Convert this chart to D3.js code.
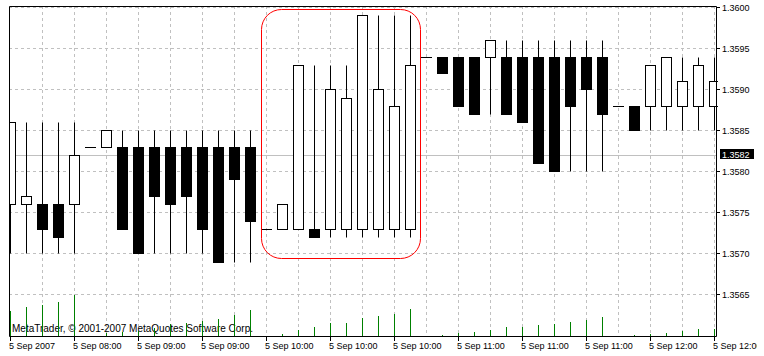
<!DOCTYPE html>
<html>
<head>
<meta charset="utf-8">
<script src="https://cdn.jsdelivr.net/npm/d3@7"></script>
<style>
  html, body { margin: 0; padding: 0; background: #ffffff; }
  svg { display: block; }
  text { font-family: "Liberation Sans", Arial, sans-serif; }
</style>
</head>
<body>
<svg id="chart_svg" width="764" height="356"></svg>
<script>
// bar data, one entry per 5 minute candle
const opens = [1.3576, 1.3576, 1.3576, 1.3576, 1.3576, 1.3583, 1.3583, 1.3583, 1.3583, 1.3583,
  1.3583, 1.3583, 1.3583, 1.3583, 1.3583, 1.3583, 1.3573, 1.3573, 1.3573, 1.3573,
  1.3573, 1.3573, 1.3573, 1.3573, 1.3573, 1.3573, 1.3594, 1.3594, 1.3594, 1.3594,
  1.3594, 1.3594, 1.3594, 1.3594, 1.3594, 1.3594, 1.3594, 1.3594, 1.3588, 1.3588,
  1.3588, 1.3588, 1.3588, 1.3588, 1.3588];
const highs = [1.3586, 1.3586, 1.3586, 1.3586, 1.3586, 1.3583, 1.3585, 1.3585, 1.3585, 1.3585,
  1.3585, 1.3585, 1.3585, 1.3585, 1.3585, 1.3585, 1.3573, 1.3576, 1.3593, 1.3593,
  1.3593, 1.3593, 1.3599, 1.3599, 1.3599, 1.3599, 1.3594, 1.3594, 1.3594, 1.3594,
  1.3596, 1.3596, 1.3596, 1.3596, 1.3596, 1.3596, 1.3596, 1.3596, 1.3588, 1.3588,
  1.3593, 1.3594, 1.3594, 1.3594, 1.3594];
const lows = [1.3570, 1.3570, 1.3570, 1.3570, 1.3570, 1.3583, 1.3583, 1.3573, 1.3570, 1.3570,
  1.3570, 1.3570, 1.3570, 1.3569, 1.3569, 1.3569, 1.3573, 1.3573, 1.3573, 1.3572,
  1.3572, 1.3572, 1.3572, 1.3572, 1.3572, 1.3572, 1.3594, 1.3592, 1.3588, 1.3587,
  1.3587, 1.3587, 1.3586, 1.3581, 1.3580, 1.3580, 1.3580, 1.3580, 1.3588, 1.3585,
  1.3585, 1.3585, 1.3585, 1.3585, 1.3585];
const closes = [1.3586, 1.3577, 1.3573, 1.3572, 1.3582, 1.3583, 1.3585, 1.3573, 1.3570, 1.3577,
  1.3576, 1.3577, 1.3573, 1.3569, 1.3579, 1.3574, 1.3573, 1.3576, 1.3593, 1.3572,
  1.3590, 1.3589, 1.3599, 1.3590, 1.3588, 1.3593, 1.3594, 1.3592, 1.3588, 1.3587,
  1.3596, 1.3587, 1.3586, 1.3581, 1.3580, 1.3588, 1.3590, 1.3587, 1.3588, 1.3585,
  1.3593, 1.3594, 1.3591, 1.3593, 1.3591];
const volumes = [25, 29, 31, 34, 41, 0, 3, 4, 5, 8,
  12, 13, 15, 17, 21, 26, 0, 2, 6, 9,
  13, 13, 18, 20, 22, 27, 0, 1, 3, 4,
  6, 9, 9, 11, 12, 14, 16, 19, 0, 1,
  2, 3, 5, 7, 7];

// time axis labels, every 4th bar
const timeTickIndex = [0, 4, 8, 12, 16, 20, 24, 28, 32, 36, 40, 44];
const timeTickLabels = ["5 Sep 2007", "5 Sep 08:00", "5 Sep 09:00", "5 Sep 09:00", "5 Sep 10:00",
  "5 Sep 10:00", "5 Sep 10:00", "5 Sep 11:00", "5 Sep 11:00", "5 Sep 11:00", "5 Sep 12:00", "5 Sep 12:00"];

const priceTicks = [1.3600, 1.3595, 1.3590, 1.3585, 1.3580, 1.3575, 1.3570, 1.3565];
const currentPrice = 1.3582;

// highlighted region (bar index range, price range)
const highlightBars = [15.69, 25.63];
const highlightPrices = [1.35694, 1.359985];

const copyright = "MetaTrader, \u00a9 2001-2007 MetaQuotes Software Corp.";

const bars = opens.map((o, i) => ({
  i: i, open: o, high: highs[i], low: lows[i], close: closes[i], volume: volumes[i]
}));

let svg = d3.select("#chart_svg");

const frame = { left: 9, top: 6, right: 716, bottom: 336 };

/**
 * Scales: one bar every 16 px, price in pips
 */
const xScale = d3.scaleLinear().domain([0, 44]).range([10, 714]);
const yScale = d3.scaleLinear().domain([1.3565, 1.3600]).range([294.3, 7.3]);
const volScale = d3.scaleLinear().domain([0, 41]).range([frame.bottom, frame.bottom - 41]);

const px = (v) => Math.round(v) + 0.5;

let defs = svg.append("defs");

defs.append("clipPath").attr("id", "plot_clip")
  .append("rect")
  .attr("x", frame.left)
  .attr("y", frame.top)
  .attr("width", frame.right - frame.left + 2)
  .attr("height", frame.bottom - frame.top);

// labels that do not fit are cut at the window edge
defs.append("clipPath").attr("id", "label_clip")
  .append("rect")
  .attr("x", 0)
  .attr("y", frame.bottom)
  .attr("width", 757)
  .attr("height", 20);

/**
 * Grid
 */
let g_grid = svg.append("g");

g_grid.selectAll(".hgrid")
  .data(priceTicks)
  .enter()
  .append("line")
  .attr("class", "hgrid")
  .attr("x1", frame.left)
  .attr("x2", frame.right)
  .attr("y1", (d) => px(yScale(d)))
  .attr("y2", (d) => px(yScale(d)))
  .attr("stroke", "#c0c0c0")
  .attr("stroke-dasharray", "3,3");

g_grid.selectAll(".vgrid")
  .data(d3.range(2, 45, 2))
  .enter()
  .append("line")
  .attr("class", "vgrid")
  .attr("x1", (d) => px(xScale(d)))
  .attr("x2", (d) => px(xScale(d)))
  .attr("y1", frame.top)
  .attr("y2", frame.bottom)
  .attr("stroke", "#c0c0c0")
  .attr("stroke-dasharray", "3,3");

// current price line
g_grid.append("line")
  .attr("x1", frame.left)
  .attr("x2", frame.right)
  .attr("y1", px(yScale(currentPrice)))
  .attr("y2", px(yScale(currentPrice)))
  .attr("stroke", "#c0c0c0");

/**
 * Copyright text and volume bars
 */
svg.append("text")
  .attr("x", 12)
  .attr("y", 332)
  .attr("font-size", 10)
  .attr("fill", "#000")
  .text(copyright);

svg.append("g")
  .selectAll("line")
  .data(bars.filter((d) => d.volume > 0))
  .enter()
  .append("line")
  .attr("x1", (d) => px(xScale(d.i)))
  .attr("x2", (d) => px(xScale(d.i)))
  .attr("y1", volScale(0))
  .attr("y2", (d) => Math.round(volScale(d.volume)))
  .attr("stroke", "#008000");

/**
 * Candles
 */
let g_candles = svg.append("g").attr("clip-path", "url(#plot_clip)");

g_candles.selectAll(".wick")
  .data(bars.filter((d) => d.high > d.low))
  .enter()
  .append("line")
  .attr("class", "wick")
  .attr("x1", (d) => px(xScale(d.i)))
  .attr("x2", (d) => px(xScale(d.i)))
  .attr("y1", (d) => px(yScale(d.high)))
  .attr("y2", (d) => px(yScale(d.low)))
  .attr("stroke", "#000");

// open == close: a flat dash
g_candles.selectAll(".doji")
  .data(bars.filter((d) => d.open === d.close))
  .enter()
  .append("line")
  .attr("class", "doji")
  .attr("x1", (d) => Math.round(xScale(d.i)) - 5)
  .attr("x2", (d) => Math.round(xScale(d.i)) + 6)
  .attr("y1", (d) => px(yScale(d.open)))
  .attr("y2", (d) => px(yScale(d.open)))
  .attr("stroke", "#000");

g_candles.selectAll(".body")
  .data(bars.filter((d) => d.open !== d.close))
  .enter()
  .append("rect")
  .attr("class", "body")
  .attr("x", (d) => Math.round(xScale(d.i)) - 5 + 0.5)
  .attr("y", (d) => px(yScale(Math.max(d.open, d.close))))
  .attr("width", 10)
  .attr("height", (d) => Math.round(yScale(Math.min(d.open, d.close))) - Math.round(yScale(Math.max(d.open, d.close))))
  .attr("fill", (d) => d.close > d.open ? "#ffffff" : "#000000")
  .attr("stroke", "#000");

/**
 * Frame
 */
svg.append("path")
  .attr("d", "M" + (frame.left + 0.5) + "," + (frame.top + 0.5) +
    "H" + (frame.right + 0.5) + "V" + (frame.bottom + 0.5) +
    "H" + (frame.left + 0.5) + "Z")
  .attr("fill", "none")
  .attr("stroke", "#000");

/**
 * Price axis (right)
 */
let g_price = svg.append("g");

g_price.selectAll(".ptick")
  .data(priceTicks)
  .enter()
  .append("line")
  .attr("class", "ptick")
  .attr("x1", frame.right + 1)
  .attr("x2", frame.right + 4)
  .attr("y1", (d) => px(yScale(d)))
  .attr("y2", (d) => px(yScale(d)))
  .attr("stroke", "#000");

g_price.selectAll(".plabel")
  .data(priceTicks)
  .enter()
  .append("text")
  .attr("class", "plabel")
  .attr("x", 722)
  .attr("y", (d) => Math.round(yScale(d)) + 4)
  .attr("font-size", 9)
  .attr("fill", "#000")
  .text((d) => d.toFixed(4));

// current price box
g_price.append("rect")
  .attr("x", 720)
  .attr("y", Math.round(yScale(currentPrice)) - 6)
  .attr("width", 34)
  .attr("height", 10)
  .attr("fill", "#000");

g_price.append("text")
  .attr("x", 722)
  .attr("y", Math.round(yScale(currentPrice)) + 3)
  .attr("font-size", 9)
  .attr("fill", "#fff")
  .text(currentPrice.toFixed(4));

/**
 * Time axis (bottom)
 */
let g_time = svg.append("g");

g_time.selectAll(".ttick")
  .data(timeTickIndex)
  .enter()
  .append("line")
  .attr("class", "ttick")
  .attr("x1", (d) => px(xScale(d)))
  .attr("x2", (d) => px(xScale(d)))
  .attr("y1", frame.bottom + 1)
  .attr("y2", frame.bottom + 5)
  .attr("stroke", "#000");

g_time.append("g")
  .attr("clip-path", "url(#label_clip)")
  .selectAll(".tlabel")
  .data(timeTickIndex)
  .enter()
  .append("text")
  .attr("class", "tlabel")
  .attr("x", (d) => xScale(d) - 1)
  .attr("y", 348.5)
  .attr("font-size", 9)
  .attr("fill", "#000")
  .text((d, i) => timeTickLabels[i]);

/**
 * Highlight box
 */
svg.append("rect")
  .attr("x", px(xScale(highlightBars[0])))
  .attr("y", px(yScale(highlightPrices[1])))
  .attr("width", Math.round(xScale(highlightBars[1])) - Math.round(xScale(highlightBars[0])))
  .attr("height", Math.round(yScale(highlightPrices[0])) - Math.round(yScale(highlightPrices[1])))
  .attr("rx", 20)
  .attr("ry", 20)
  .attr("fill", "none")
  .attr("stroke", "#ff0000");
</script>
</body>
</html>
